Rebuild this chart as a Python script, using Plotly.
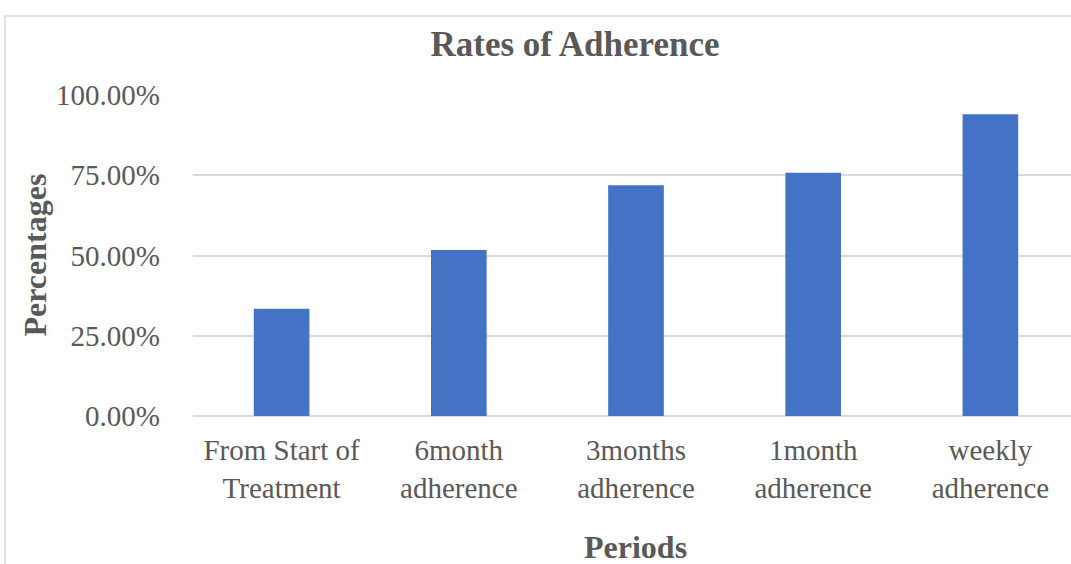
import plotly.graph_objects as go

categories = ["From Start of<br>Treatment", "6month<br>adherence", "3months<br>adherence",
              "1month<br>adherence", "weekly<br>adherence"]
values = [0.334, 0.517, 0.719, 0.758, 0.940]
y_ticks = [0, 0.25, 0.5, 0.75, 1.0]
y_tick_labels = ["0.00%", "25.00%", "50.00%", "75.00%", "100.00%"]

W, H = 1080, 564          # slightly wider than the window; plot area runs past right edge
L, R, T, B = 193, 1, 95, 148
pw, ph = W - L - R, H - T - B

def px_x(p):
    return (p - L) / pw

def px_y(p):
    return (H - B - p) / ph

grey = "#595959"
font = "Liberation Serif, Times New Roman, serif"

fig = go.Figure(go.Bar(x=categories, y=values, marker_color="#4472C4",
                       marker_line_width=0, width=0.314))

fig.update_layout(
    width=W, height=H,
    margin=dict(l=L, r=R, t=T, b=B),
    plot_bgcolor="white", paper_bgcolor="white",
    showlegend=False,
    font=dict(family=font, color=grey),
    title=dict(text="<b>Rates of Adherence</b>", x=575 / W, xanchor="center",
               y=1 - 44 / H, yanchor="middle", yref="container",
               font=dict(size=35, color=grey, family=font)),
    xaxis=dict(showgrid=False, showline=False, ticks="",
               tickfont=dict(size=29, color=grey, family=font),
               ticklabelstandoff=14),
    yaxis=dict(range=[0, 1.0], tickvals=y_ticks, ticktext=y_tick_labels,
               showgrid=True, gridcolor="#d9d9d9", gridwidth=1.5,
               zeroline=True, zerolinecolor="#d9d9d9", zerolinewidth=1.5,
               showline=False, ticks="",
               tickfont=dict(size=29, color=grey, family=font),
               ticklabelstandoff=32),
    annotations=[
        dict(text="<b>Percentages</b>", xref="paper", yref="paper",
             x=px_x(34), y=0.5, xanchor="center", yanchor="middle",
             textangle=-90, showarrow=False,
             font=dict(size=32, color=grey, family=font)),
        dict(text="<b>Periods</b>", xref="paper", yref="paper",
             x=px_x(635), y=px_y(547), xanchor="center", yanchor="middle",
             showarrow=False,
             font=dict(size=32, color=grey, family=font)),
    ],
    shapes=[dict(type="rect", xref="paper", yref="paper",
                 x0=px_x(5), y0=px_y(H + 20), x1=px_x(W + 20), y1=px_y(16),
                 line=dict(color="#d9d9d9", width=1.5), layer="below")],
)

fig.write_html("out.html", config={"displayModeBar": False})

with open("out.html", "r", encoding="utf-8") as f:
    html = f.read()
html = html.replace("<head>", "<head><style>html,body{margin:0;padding:0;overflow:hidden;}</style>", 1)
with open("out.html", "w", encoding="utf-8") as f:
    f.write(html)
